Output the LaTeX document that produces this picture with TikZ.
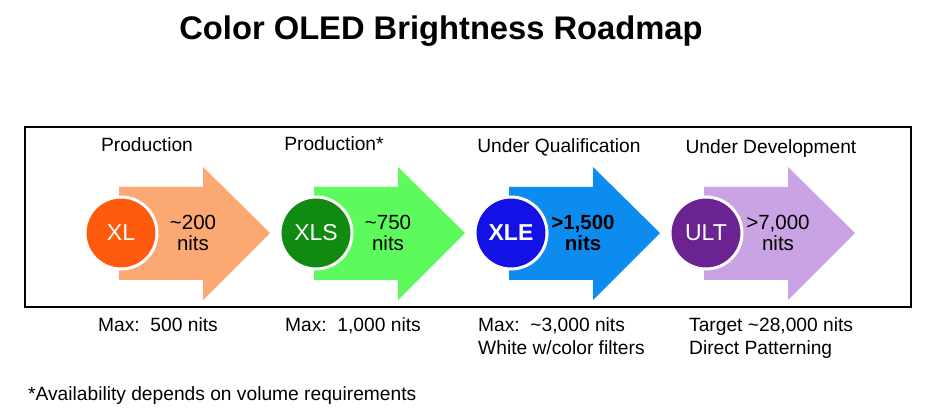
\documentclass[tikz,border=0pt]{standalone}
\usepackage{fontspec}
\setmainfont{Liberation Sans}
\definecolor{arrA}{HTML}{FBA872}
\definecolor{cirA}{HTML}{FF5B0F}
\definecolor{arrB}{HTML}{5CFA5C}
\definecolor{cirB}{HTML}{118A11}
\definecolor{arrC}{HTML}{0D8CF0}
\definecolor{cirC}{HTML}{1212E6}
\definecolor{arrD}{HTML}{C9A3E3}
\definecolor{cirD}{HTML}{6B2392}
\tikzset{
  body/.style={font=\fontsize{19.2}{21}\selectfont, inner sep=0pt},
  disc/.style={circle, minimum size=72pt, inner sep=0pt, draw=white, line width=3pt, text=white, font=\fontsize{23}{26}\selectfont},
  inarrow/.style={inner sep=0pt, align=center, font=\fontsize{20.5}{21}\selectfont},
}
\begin{document}
\begin{tikzpicture}[x=1pt,y=-1pt]
\useasboundingbox (0,0) rectangle (930,414);
\node[font=\fontsize{32.7}{36}\selectfont\bfseries, anchor=base, inner sep=0pt] (title) at (441,40) {Color OLED Brightness Roadmap};
\draw[line width=1.3pt] (25,127) rectangle (911,307);
% arrows
\fill[arrA] (119,187) -- (203,187) -- (203,167) -- (270,233) -- (203,300) -- (203,280) -- (119,280) -- cycle;
\fill[arrB] (314,187) -- (398,187) -- (398,167) -- (465,233) -- (398,300) -- (398,280) -- (314,280) -- cycle;
\fill[arrC] (509,187) -- (593,187) -- (593,167) -- (660,233) -- (593,300) -- (593,280) -- (509,280) -- cycle;
\fill[arrD] (704,187) -- (788,187) -- (788,167) -- (855,233) -- (788,300) -- (788,280) -- (704,280) -- cycle;
% circles
\node[disc, fill=cirA] (xl) at (121,233) {XL};
\node[disc, fill=cirB] (xls) at (316,233) {XLS};
\node[disc, fill=cirC, font=\fontsize{23}{26}\selectfont\bfseries] (xle) at (511,233) {XLE};
\node[disc, fill=cirD] (ult) at (706,233) {ULT};
% arrow texts
\node[inarrow] (v1) at (193,233) {\textasciitilde200\\nits};
\node[inarrow] (v2) at (388,233) {\textasciitilde750\\nits};
\node[inarrow, font=\fontsize{20.5}{21}\selectfont\bfseries] (v3) at (583,233) {>1,500\\nits};
\node[inarrow] (v4) at (778,233) {>7,000\\nits};
% headings
\node[body, anchor=base] (h1) at (147,152) {Production};
\node[body, anchor=base] (h2) at (334,151) {Production*};
\node[body, anchor=base] (h3) at (559,153) {Under Qualification};
\node[body, anchor=base] (h4) at (771,154) {Under Development};
% below
\node[body, anchor=base west] (m1) at (98,332) {Max:\ \ 500 nits};
\node[body, anchor=base west] (m2) at (285,332) {Max:\ \ 1,000 nits};
\node[body, anchor=base west] (m3) at (478,332) {Max:\ \ \textasciitilde3,000 nits};
\node[body, anchor=base west] (m3b) at (478,355) {White w/color filters};
\node[body, anchor=base west] (m4) at (689,332) {Target \textasciitilde28,000 nits};
\node[body, anchor=base west] (m4b) at (689,355) {Direct Patterning};
\node[body, anchor=base west] (foot) at (28,400) {*Availability depends on volume requirements};
\end{tikzpicture}
\end{document}
